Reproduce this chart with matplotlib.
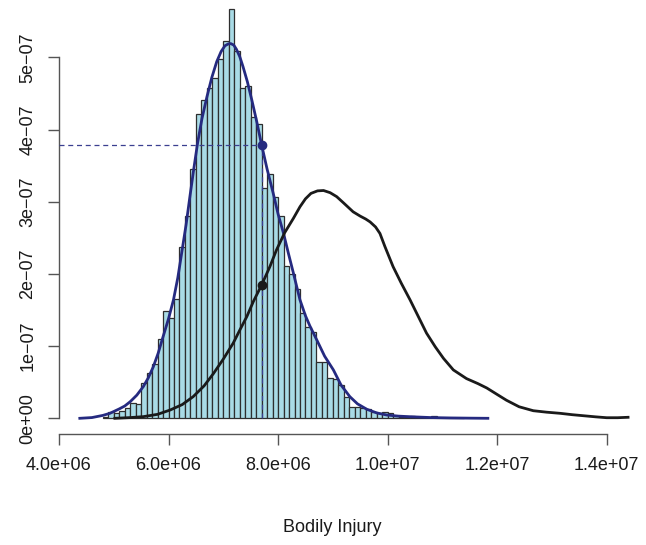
import numpy as np
import matplotlib
matplotlib.use("Agg")
import matplotlib.pyplot as plt

plt.rcParams['font.family'] = ['Liberation Sans', 'DejaVu Sans']

# Histogram (bin start, density), bin width 1e5
bin_starts = [4.8e6, 4.9e6, 5.0e6, 5.1e6, 5.2e6, 5.3e6, 5.4e6, 5.5e6, 5.6e6, 5.7e6,
              5.8e6, 5.9e6, 6.0e6, 6.1e6, 6.2e6, 6.3e6, 6.4e6, 6.5e6, 6.6e6, 6.7e6,
              6.8e6, 6.9e6, 7.0e6, 7.1e6, 7.2e6, 7.3e6, 7.4e6, 7.5e6, 7.6e6, 7.7e6,
              7.8e6, 7.9e6, 8.0e6, 8.1e6, 8.2e6, 8.3e6, 8.4e6, 8.5e6, 8.6e6, 8.7e6,
              8.8e6, 8.9e6, 9.0e6, 9.1e6, 9.2e6, 9.3e6, 9.4e6, 9.5e6, 9.6e6, 9.7e6,
              9.8e6, 9.9e6, 1.0e7, 1.01e7, 1.02e7, 1.03e7, 1.04e7, 1.05e7, 1.06e7, 1.07e7,
              1.08e7, 1.09e7, 1.10e7, 1.11e7, 1.12e7, 1.13e7]
bin_density = [2e-9, 8.3e-9, 8e-9, 1.0e-8, 1.38e-8, 2.16e-8, 1.98e-8, 4.93e-8, 6.23e-8, 7.48e-8,
               1.094e-7, 1.486e-7, 1.385e-7, 1.648e-7, 2.377e-7, 2.80e-7, 3.45e-7, 4.21e-7, 4.41e-7, 4.57e-7,
               4.72e-7, 4.97e-7, 5.226e-7, 5.665e-7, 5.087e-7, 4.57e-7, 4.60e-7, 4.17e-7, 4.08e-7, 3.186e-7,
               3.384e-7, 3.06e-7, 2.80e-7, 2.11e-7, 2.00e-7, 1.787e-7, 1.463e-7, 1.26e-7, 1.20e-7, 7.84e-8,
               7.76e-8, 5.54e-8, 5.5e-8, 4.61e-8, 2.99e-8, 1.61e-8, 1.5e-8, 1.45e-8, 1.25e-8, 9.2e-9,
               8e-9, 8.3e-9, 7.8e-9, 3.6e-9, 2e-9, 2e-9, 3.6e-9, 1.5e-9, 1.5e-9, 1e-9,
               3.6e-9, 1e-9, 1e-9, 1e-9, 1e-9, 1e-9]
bin_width = 1e5

# Blue (fitted) density curve
blue_x = [4.38e6, 4.6e6, 4.8e6, 4.93e6, 5.1e6, 5.2e6, 5.30e6, 5.42e6, 5.54e6, 5.63e6,
          5.72e6, 5.81e6, 5.90e6, 6.0e6, 6.09e6, 6.17e6, 6.24e6, 6.32e6, 6.39e6, 6.46e6,
          6.53e6, 6.61e6, 6.70e6, 6.79e6, 6.88e6, 6.96e6, 7.03e6, 7.09e6, 7.135e6, 7.19e6,
          7.24e6, 7.30e6, 7.36e6, 7.44e6, 7.52e6, 7.61e6, 7.70e6, 7.80e6, 7.91e6, 8.0e6,
          8.10e6, 8.19e6, 8.28e6, 8.40e6, 8.50e6, 8.58e6, 8.71e6, 8.85e6, 9.01e6, 9.15e6,
          9.31e6, 9.45e6, 9.62e6, 9.8e6, 9.98e6, 1.02e7, 1.041e7, 1.08e7, 1.114e7, 1.15e7,
          1.183e7]
blue_y = [0.0, 1.0e-9, 4.0e-9, 6.9e-9, 1.3e-8, 1.7e-8, 2.3e-8, 3.2e-8, 4.4e-8, 5.6e-8,
          7.1e-8, 9.0e-8, 1.13e-7, 1.38e-7, 1.64e-7, 1.95e-7, 2.29e-7, 2.68e-7, 3.07e-7, 3.45e-7,
          3.81e-7, 4.15e-7, 4.45e-7, 4.72e-7, 4.94e-7, 5.08e-7, 5.16e-7, 5.185e-7, 5.19e-7, 5.17e-7,
          5.11e-7, 5.01e-7, 4.87e-7, 4.66e-7, 4.41e-7, 4.11e-7, 3.785e-7, 3.45e-7, 3.12e-7, 2.83e-7,
          2.56e-7, 2.28e-7, 2.01e-7, 1.64e-7, 1.42e-7, 1.28e-7, 1.08e-7, 8.6e-8, 6.7e-8, 4.6e-8,
          3.0e-8, 2.0e-8, 1.25e-8, 7.5e-9, 4.6e-9, 3.0e-9, 2.2e-9, 1.0e-9, 5e-10, 2e-10,
          0.0]

# Black density curve
black_x = [5.02e6, 5.3e6, 5.54e6, 5.8e6, 6.03e6, 6.25e6, 6.45e6, 6.65e6, 6.82e6, 7.0e6,
           7.18e6, 7.3e6, 7.43e6, 7.55e6, 7.70e6, 7.85e6, 7.97e6, 8.12e6, 8.28e6, 8.40e6,
           8.5e6, 8.6e6, 8.72e6, 8.83e6, 8.95e6, 9.07e6, 9.2e6, 9.37e6, 9.5e6, 9.6e6,
           9.68e6, 9.78e6, 9.86e6, 9.95e6, 1.01e7, 1.025e7, 1.041e7, 1.056e7, 1.071e7, 1.087e7,
           1.102e7, 1.12e7, 1.144e7, 1.165e7, 1.181e7, 1.2e7, 1.217e7, 1.24e7, 1.266e7, 1.29e7,
           1.315e7, 1.337e7, 1.357e7, 1.38e7, 1.40e7, 1.42e7, 1.439e7]
black_y = [0.0, 1.0e-9, 2.3e-9, 5.5e-9, 1.15e-8, 1.9e-8, 3.0e-8, 4.5e-8, 6.2e-8, 8.2e-8,
           1.04e-7, 1.22e-7, 1.41e-7, 1.62e-7, 1.846e-7, 2.10e-7, 2.33e-7, 2.57e-7, 2.77e-7, 2.93e-7,
           3.04e-7, 3.115e-7, 3.15e-7, 3.155e-7, 3.125e-7, 3.07e-7, 2.98e-7, 2.86e-7, 2.80e-7, 2.76e-7,
           2.72e-7, 2.65e-7, 2.56e-7, 2.38e-7, 2.10e-7, 1.87e-7, 1.64e-7, 1.41e-7, 1.18e-7, 9.9e-8,
           8.3e-8, 6.7e-8, 5.5e-8, 4.8e-8, 4.2e-8, 3.3e-8, 2.5e-8, 1.6e-8, 1.05e-8, 8.5e-9,
           6.9e-9, 5.0e-9, 3.6e-9, 2.0e-9, 8e-10, 8e-10, 1.4e-9]

# Marked quantile points
mark_x = 7.70e6
mark_blue_y = 3.785e-7
mark_black_y = 1.846e-7

x_ticks = [4.0e6, 6.0e6, 8.0e6, 1.0e7, 1.2e7, 1.4e7]
x_tick_labels = ["4.0e+06", "6.0e+06", "8.0e+06", "1.0e+07", "1.2e+07", "1.4e+07"]
y_ticks = [0, 1e-7, 2e-7, 3e-7, 4e-7, 5e-7]
y_tick_labels = ["0e+00", "1e\u221207", "2e\u221207", "3e\u221207", "4e\u221207", "5e\u221207"]

W, H = 646, 545
fig = plt.figure(figsize=(W / 100, H / 100), dpi=100)
left_px, right_px, bottom_px, top_px = 58.7, 646, 434.3, 0
ax = fig.add_axes([left_px / W, 1 - bottom_px / H, (right_px - left_px) / W, (bottom_px - top_px) / H])

xpx_per = 54.77e-6
x0 = 4e6 + (left_px - 59) / xpx_per
x1 = 4e6 + (right_px - 59) / xpx_per
ypx_per = 72.2e7
y0 = -(bottom_px - 418.3) / ypx_per
y1 = (418.3 - top_px) / ypx_per
ax.set_xlim(x0, x1)
ax.set_ylim(y0, y1)

ax.bar(bin_starts, bin_density, width=bin_width, align='edge', color='#a9dbe6',
       edgecolor='#2e2e2e', linewidth=0.9, zorder=2)
ax.plot(blue_x, blue_y, color='#252a80', lw=2.0, zorder=4, solid_joinstyle='round')
ax.plot(black_x, black_y, color='#1a1a1a', lw=2.0, zorder=4, solid_joinstyle='round')

ax.plot([x0, mark_x], [mark_blue_y, mark_blue_y], color='#3a3f90', lw=0.9, ls=(0, (4, 3)), zorder=3)
ax.plot([mark_x, mark_x], [0, mark_blue_y], color='#3a3f90', lw=0.9, ls=(0, (4, 3)), zorder=3)
ax.plot([mark_x], [mark_blue_y], 'o', color='#252a80', ms=6, zorder=5)
ax.plot([mark_x], [mark_black_y], 'o', color='#1a1a1a', ms=6, zorder=5)

for s in ['top', 'right']:
    ax.spines[s].set_visible(False)
ax.spines['left'].set_bounds(0, 5e-7)
ax.spines['bottom'].set_bounds(4e6, 1.4e7)
for s in ['left', 'bottom']:
    ax.spines[s].set_color('#555555')
    ax.spines[s].set_linewidth(1.0)

ax.set_xticks(x_ticks)
ax.set_xticklabels(x_tick_labels)
ax.set_yticks(y_ticks)
ax.set_yticklabels(y_tick_labels, rotation=90, va='center')
ax.tick_params(axis='both', direction='out', length=8, width=1.0, color='#555555',
               labelsize=13, labelcolor='#1a1a1a', pad=8)

fig.text(332 / W, 1 - 528 / H, "Bodily Injury", ha='center', va='center', fontsize=13, color='#1a1a1a')

fig.savefig("out.png", dpi=100)
